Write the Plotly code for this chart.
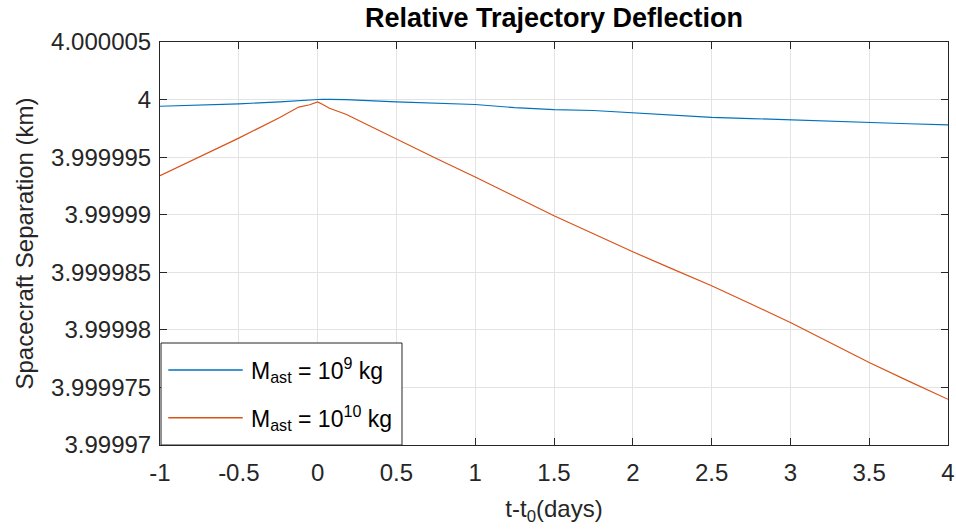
import plotly.graph_objects as go

# Time since t0 (days)
t_days = [-1.0, -0.75, -0.5, -0.24, -0.12, -0.05, 0.0, 0.03, 0.075, 0.18, 0.5, 0.75,
          1.0, 1.25, 1.5, 1.75, 2.0, 2.25, 2.5, 2.75, 3.0, 3.25, 3.5, 3.75, 4.0]

# Separation (km) for M_ast = 1e9 kg
sep_1e9 = [3.99999942, 3.99999952, 3.99999963, 3.99999980, 3.99999992, 3.99999998,
           4.00000004, 4.00000003, 4.00000002, 4.00000000, 3.99999980, 3.99999970,
           3.99999957, 3.99999930, 3.99999913, 3.99999905, 3.99999884, 3.99999865,
           3.99999846, 3.99999835, 3.99999823, 3.99999812, 3.99999797, 3.99999790,
           3.99999780]

# Separation (km) for M_ast = 1e10 kg
sep_1e10 = [3.99999339, 3.99999504, 3.99999665, 3.99999845, 3.99999935, 3.99999955,
            3.99999980, 3.99999959, 3.99999924, 3.99999872, 3.99999655, 3.99999490,
            3.99999328, 3.99999160, 3.99998991, 3.99998835, 3.99998678, 3.99998530,
            3.99998383, 3.99998225, 3.99998064, 3.99997890, 3.99997716, 3.99997555,
            3.99997397]

x_ticks = [-1, -0.5, 0, 0.5, 1, 1.5, 2, 2.5, 3, 3.5, 4]
x_ticktext = ["-1", "-0.5", "0", "0.5", "1", "1.5", "2", "2.5", "3", "3.5", "4"]
y_ticks = [4.000005, 4.0, 3.999995, 3.99999, 3.999985, 3.99998, 3.999975, 3.99997]
y_ticktext = ["4.000005", "4", "3.999995", "3.99999", "3.999985", "3.99998",
              "3.999975", "3.99997"]

series_names = ["M<sub>ast</sub> = 10<sup>9</sup> kg",
                "M<sub>ast</sub> = 10<sup>10</sup> kg"]
colors = ["#0072BD", "#D95319"]

FONT = "Liberation Sans, Arial, Helvetica, sans-serif"
AXC = "#262626"

fig = go.Figure()
fig.add_trace(go.Scatter(x=t_days, y=sep_1e9, mode="lines", name=series_names[0],
                         line=dict(color=colors[0], width=1.2), showlegend=False))
fig.add_trace(go.Scatter(x=t_days, y=sep_1e10, mode="lines", name=series_names[1],
                         line=dict(color=colors[1], width=1.2), showlegend=False))

axis_common = dict(
    showgrid=True, gridcolor="#e3e3e3", gridwidth=1,
    showline=True, linecolor=AXC, linewidth=1, mirror="allticks",
    ticks="inside", ticklen=7, tickcolor=AXC, tickwidth=1,
    zeroline=False, automargin=False,
    tickfont=dict(family=FONT, size=24, color=AXC),
)

# Custom legend (box, line samples, labels) in plot-area paper coordinates
legend_box = dict(x0=0.0013, x1=0.3071, y0=0.0, y1=0.2531)
legend_rows_y = [0.1861, 0.0677]
legend_line_x = [0.0105, 0.105]
legend_text_x = 0.1129

shapes = [dict(type="rect", xref="paper", yref="paper", layer="above",
               fillcolor="white", line=dict(color=AXC, width=1), **legend_box)]
annotations = []
for name, col, ry in zip(series_names, colors, legend_rows_y):
    shapes.append(dict(type="line", xref="paper", yref="paper", layer="above",
                       x0=legend_line_x[0], x1=legend_line_x[1], y0=ry, y1=ry,
                       line=dict(color=col, width=1.5)))
    annotations.append(dict(text=name, xref="paper", yref="paper", x=legend_text_x,
                            y=ry, xanchor="left", yanchor="middle", showarrow=False,
                            font=dict(family=FONT, size=23, color="black")))

fig.update_layout(
    width=956, height=530,
    margin=dict(l=160, r=8, t=42, b=85),
    paper_bgcolor="white", plot_bgcolor="white",
    font=dict(family=FONT, color=AXC),
    title=dict(text="<b>Relative Trajectory Deflection</b>", xref="paper", x=0.5,
               xanchor="center", yref="container", y=1 - 18 / 530, yanchor="middle",
               font=dict(family=FONT, size=27, color="black")),
    xaxis=dict(range=[-1, 4], tickvals=x_ticks, ticktext=x_ticktext,
               ticklabelstandoff=6,
               title=dict(text="t-t<sub>0</sub>(days)", standoff=15,
                          font=dict(family=FONT, size=24, color=AXC)),
               **axis_common),
    yaxis=dict(range=[3.99997, 4.000005], tickvals=y_ticks, ticktext=y_ticktext,
               ticklabelstandoff=3,
               title=dict(text="Spacecraft Separation (km)", standoff=10,
                          font=dict(family=FONT, size=24, color=AXC)),
               **axis_common),
    shapes=shapes,
    annotations=annotations,
    showlegend=False,
)

fig.write_html("out.html",
               config={"displayModeBar": False},
               post_script="document.body.style.margin='0px';"
                           "document.body.style.overflow='hidden';")
